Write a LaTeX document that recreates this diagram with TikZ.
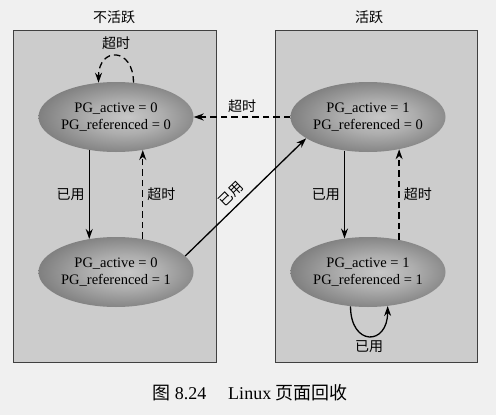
\documentclass[tikz,border=0pt]{standalone}
\usepackage{fontspec}
\setmainfont{Liberation Serif}
\newfontfamily\cjk{Noto Sans CJK SC}
\usetikzlibrary{arrows.meta,shapes.geometric}
\pgfdeclareradialshading{stin}{\pgfpoint{4bp}{0bp}}{color(0bp)=(black!22); color(12bp)=(black!32); color(50bp)=(black!78)}
\tikzset{
  stav/.style={ellipse,shade,shading=stin,minimum width=144pt,minimum height=70pt,inner sep=0pt,align=center,font=\fontsize{14.5}{16.5}\selectfont},
  oblast/.style={draw=black!75,fill=black!20,line width=0.9pt},
  sip/.style={-{Stealth[length=10pt,width=7pt]},line width=1.3pt},
  sipC/.style={sip,dash pattern=on 6.5pt off 4pt},
  popis/.style={font=\cjk\fontsize{14}{16}\selectfont,inner sep=2pt},
}

\begin{document}
\begin{tikzpicture}[x=1pt,y=-1pt]
  \fill[black!6] (0,0) rectangle (496,415);
  \useasboundingbox (0,0) rectangle (496,415);
  \draw[oblast] (13,30) rectangle (216,362);
  \draw[oblast] (275,30) rectangle (477,362);
  \node[popis] (tn) at (114,17) {不活跃};
  \node[popis] (ta) at (369,17) {活跃};
  \node[stav] (n0) at (116,117) {PG\_active = 0\\PG\_referenced = 0};
  \node[stav] (n1) at (116,272) {PG\_active = 0\\PG\_referenced = 1};
  \node[stav] (a0) at (368,117) {PG\_active = 1\\PG\_referenced = 0};
  \node[stav] (a1) at (368,272) {PG\_active = 1\\PG\_referenced = 1};
  \draw[sipC] (n0.63) .. controls +(0,-36) and +(0,-36) .. (n0.117) node[popis,pos=0.5,above=3pt]{超时};
  \draw[sip] (n0.231) -- (n1.129) node[popis,midway,left=2pt]{已用};
  \draw[sipC] (n1.51) -- (n0.309) node[popis,midway,right=2pt]{超时};
  \draw[sipC] (a0.west) -- (n0.east) node[popis,midway,above=2pt]{超时};
  \draw[sip] (n1.13) -- (a0.199) node[popis,pos=0.45,above=4pt,sloped]{已用};
  \draw[sip] (a0.235) -- (a1.125) node[popis,midway,left=2pt]{已用};
  \draw[sipC] (a1.46) -- (a0.314) node[popis,midway,right=2pt]{超时};
  \draw[sip] (a1.243) .. controls +(0,40) and +(0,40) .. (a1.300) node[popis,pos=0.5,below=2pt]{已用};
  \node[font=\fontsize{18}{20}\selectfont] (cap) at (250,393) {{\cjk 图} 8.24\hspace{22pt}Linux {\cjk 页面回收}};
\end{tikzpicture}
\end{document}
